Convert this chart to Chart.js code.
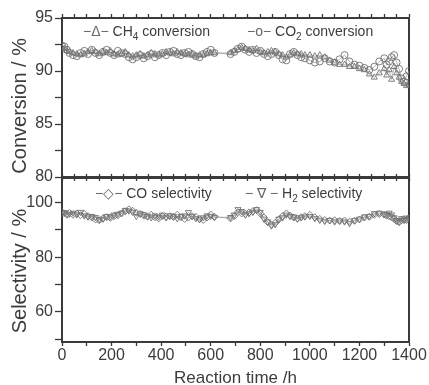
<!DOCTYPE html>
<html>
<head>
<meta charset="utf-8">
<script src="https://cdn.jsdelivr.net/npm/chart.js@4.4.0/dist/chart.umd.min.js"></script>
<style>
  html, body { margin: 0; padding: 0; background: #fff; overflow: hidden; }
  #wrap { position: relative; width: 429px; height: 385px; }
  canvas { position: absolute; left: 0; }
  #topChart { top: 0; }
  #bottomChart { top: 173px; }
  .key { position: absolute; font: 14px "Liberation Sans", Arial, sans-serif; color: #3c3c3c; white-space: nowrap; line-height: 16px; }
  .key sub { font-size: 10px; line-height: 0; }
  .mark { color: #666; }
</style>
</head>
<body>
<div id="wrap">
  <canvas id="topChart" width="429" height="190"></canvas>
  <canvas id="bottomChart" width="429" height="214"></canvas>
  <div class="key" style="left:83px;top:23px"><span class="mark">−Δ−</span> CH<sub>4</sub> conversion</div>
  <div class="key" style="left:247px;top:23px"><span class="mark">−o−</span> CO<sub>2</sub> conversion</div>
  <div class="key" style="left:95px;top:185px"><span class="mark">−◇−</span> CO selectivity</div>
  <div class="key" style="left:245px;top:185px"><span class="mark">− ∇ −</span> H<sub>2</sub> selectivity</div>
</div>
<script>
// reaction time (h) shared by all four series
const hours = [0, 10, 20, 30,
  45, 60, 75, 90, 105, 120, 135, 150, 165, 180, 195, 210, 225, 240, 255, 270, 285, 300, 315, 330, 345,
  360, 375, 390, 405, 420, 435, 450, 465, 480, 495, 510, 525, 540, 555, 570, 585, 600, 615,
  680, 695, 710, 725, 740, 755, 770, 785, 800, 815, 830, 845, 860, 875, 890, 905, 920, 935, 950, 965, 980,
  1000, 1020, 1040, 1060, 1080, 1100, 1120, 1140, 1160, 1180, 1200, 1220, 1240, 1260, 1280, 1300,
  1310, 1320, 1330, 1340, 1350, 1360, 1370, 1380, 1390, 1400];

const ch4Conversion = [92.2, 92.1, 91.9, 91.8,
  91.7, 91.6, 91.5, 91.6, 91.8, 91.9, 91.8, 91.6, 91.8, 91.7, 91.9, 91.6, 91.5, 91.6, 91.8, 91.5, 91.4, 91.5, 91.6, 91.4, 91.5,
  91.7, 91.6, 91.5, 91.6, 91.8, 91.7, 91.6, 91.8, 91.7, 91.6, 91.5, 91.6, 91.4, 91.5, 91.5, 91.6, 91.7, 91.7,
  91.7, 91.9, 92.0, 92.2, 92.1, 92.0, 91.9, 92.1, 91.8, 91.7, 91.8, 91.9, 91.8, 91.6, 91.5, 91.3, 91.5, 91.7, 91.6, 91.6, 91.5,
  91.5, 91.4, 91.5, 91.3, 91.0, 90.8, 90.6, 90.6, 90.4, 90.4, 90.2, 90.1, 89.7, 89.4, 89.8, 90.2,
  89.6, 90.1, 89.2, 90.4, 89.8, 89.4, 89.0, 88.8, 88.6, 88.7];

const co2Conversion = [92.4, 92.3, 92.0, 91.7,
  91.5, 91.4, 91.7, 91.9, 91.6, 92.0, 91.7, 91.5, 91.8, 92.0, 91.7, 91.5, 91.9, 91.7, 91.6, 91.3, 91.1, 91.3, 91.5, 91.2, 91.4,
  91.6, 91.3, 91.5, 91.7, 91.5, 91.8, 91.9, 91.6, 91.5, 91.7, 91.8, 91.6, 91.4, 91.3, 91.6, 91.8, 92.0, 91.7,
  91.6, 91.8, 92.1, 92.3, 92.0, 91.8, 92.0, 91.7, 91.9, 91.6, 91.4, 91.6, 91.8, 91.5, 91.1, 91.0, 91.6, 91.8, 91.5, 91.3, 91.2,
  91.0, 90.8, 90.9, 91.2, 90.9, 90.8, 91.1, 91.5, 90.9, 90.6, 90.5, 90.3, 90.1, 90.4, 90.9, 91.2,
  90.6, 90.9, 91.3, 91.5, 90.8, 90.2, 89.3, 89.0, 89.5, 90.0];

const coSelectivity = [96.5, 96.0, 95.8, 96.2,
  95.5, 96.0, 95.4, 95.8, 95.0, 94.5, 93.8, 93.5, 94.2, 94.6, 94.4, 95.0, 95.3, 96.0, 96.8, 97.5, 97.0, 96.3, 95.8, 95.2, 94.8,
  95.5, 94.6, 94.2, 95.0, 94.8, 95.0, 94.7, 95.5, 94.6, 94.0, 94.5, 95.0, 94.8, 94.0, 93.6, 94.5, 95.6, 94.8,
  94.2, 95.0, 96.5, 96.0, 95.8, 96.4, 96.8, 97.2, 96.0, 94.5, 92.8, 92.0, 92.5, 93.8, 95.0, 96.0, 95.2, 94.5, 94.2, 94.6, 95.0,
  95.5, 94.6, 94.0, 93.6, 93.4, 93.5, 93.2, 93.4, 93.0, 93.3, 93.8, 94.5, 94.8, 95.5, 95.8, 95.6,
  95.2, 95.0, 94.6, 94.0, 93.2, 92.8, 93.5, 94.0, 93.6, 94.2];

const h2Selectivity = [96.0, 96.4, 95.5, 95.8,
  96.2, 95.6, 96.5, 95.2, 94.8, 95.0, 94.6, 93.8, 94.0, 95.0, 94.8, 95.5, 95.8, 96.2, 97.2, 97.0, 96.5, 95.0, 96.0, 95.6, 95.0,
  94.5, 95.2, 94.8, 95.5, 94.5, 95.2, 95.0, 94.2, 95.0, 95.2, 96.4, 95.0, 94.2, 93.8, 94.5, 95.2, 95.0, 94.6,
  94.6, 95.5, 97.5, 96.8, 95.5, 96.0, 96.5, 97.5, 96.5, 94.0, 93.0, 91.5, 92.0, 94.0, 94.5, 95.5, 95.0, 94.8, 94.0, 94.5, 94.8,
  95.0, 94.2, 93.6, 93.2, 93.5, 93.0, 93.4, 93.0, 92.4, 93.5, 94.0, 94.8, 95.0, 96.0, 96.2, 95.8,
  95.6, 96.2, 95.5, 94.5, 93.5, 93.0, 94.2, 93.5, 94.0, 94.5];

// axis ticks
const xTicks = [0, 100, 200, 300, 400, 500, 600, 700, 800, 900, 1000, 1100, 1200, 1300, 1400];
const xFrameTicks = [0, 50, 100, 150, 200, 250, 300, 350, 400, 450, 500, 550, 600, 650, 700, 750,
  800, 850, 900, 950, 1000, 1050, 1100, 1150, 1200, 1250, 1300, 1350, 1400];
const conversionTicks = [80, 82.5, 85, 87.5, 90, 92.5, 95];
const selectivityTicks = [50, 60, 70, 80, 90, 100];

const axisColor = '#3a3a3a';
const textColor = '#3c3c3c';
const fontFamily = '"Liberation Sans", Arial, sans-serif';

Chart.defaults.font.family = fontFamily;
Chart.defaults.color = textColor;

const toPoints = (xs, ys) => xs.map((x, i) => ({ x: x, y: ys[i] }));

function series(label, values, pointStyle, rotation) {
  return {
    label: label,
    data: toPoints(hours, values),
    showLine: true,
    borderColor: '#a0a0a0',
    borderWidth: 0.8,
    pointStyle: pointStyle,
    pointRotation: rotation || 0,
    pointRadius: 3.5,
    pointBorderWidth: 0.9,
    pointBorderColor: '#727272',
    pointBackgroundColor: 'rgba(255,255,255,0)',
    tension: 0
  };
}

function fixedTicks(values) {
  return scale => { scale.ticks = values.map(v => ({ value: v })); };
}

function fixSize(w, h) {
  return scale => {
    if (w !== null) scale.width = w;
    if (h !== null) scale.height = h;
    scale.paddingTop = 0;
    scale.paddingBottom = 0;
    scale.paddingLeft = 0;
    scale.paddingRight = 0;
  };
}

function frameX(position, height, tickList, showLabels) {
  return {
    type: 'linear',
    position: position,
    min: 0,
    max: 1400,
    afterBuildTicks: fixedTicks(tickList),
    afterFit: fixSize(null, height),
    ticks: {
      display: showLabels,
      autoSkip: false,
      maxRotation: 0,
      padding: 0,
      font: { size: 16 },
      callback: v => (v % 200 === 0 ? String(v) : '')
    },
    grid: { drawOnChartArea: false, tickLength: 4, tickWidth: 1.3, tickColor: axisColor },
    border: { color: axisColor, width: 2 }
  };
}

function rightFrame(min, max) {
  return {
    type: 'linear',
    position: 'right',
    min: min,
    max: max,
    afterFit: fixSize(0, null),
    ticks: { display: false },
    grid: { drawOnChartArea: false, drawTicks: false },
    border: { color: axisColor, width: 2 }
  };
}

// trailing spaces nudge the rotated title downwards, as in the original figure
function leftAxis(min, max, tickList, labelStep, title) {
  return {
    type: 'linear',
    position: 'left',
    min: min,
    max: max,
    afterBuildTicks: fixedTicks(tickList),
    afterFit: fixSize(62, null),
    ticks: {
      padding: 2,
      font: { size: 16 },
      callback: v => (v % labelStep === 0 ? String(v) : '')
    },
    grid: { drawOnChartArea: false, tickLength: 7, tickWidth: 1.3, tickColor: axisColor },
    border: { color: axisColor, width: 2 },
    title: {
      display: true,
      text: title,
      color: textColor,
      font: { size: 20 },
      padding: { top: 8, bottom: 0 }
    }
  };
}

const baseOptions = {
  responsive: false,
  animation: false,
  devicePixelRatio: 1,
  plugins: { legend: { display: false }, tooltip: { enabled: false } }
};

new Chart(document.getElementById('topChart'), {
  type: 'line',
  data: {
    datasets: [
      series('CH4 conversion', ch4Conversion, 'triangle', 0),
      series('CO2 conversion', co2Conversion, 'circle', 0)
    ]
  },
  options: Object.assign({}, baseOptions, {
    layout: { padding: { top: 14, right: 20, bottom: 0, left: 0 } },
    scales: {
      x: frameX('bottom', 13, xFrameTicks, false),
      xTop: frameX('top', 4, xFrameTicks, false),
      y: leftAxis(80, 95, conversionTicks, 5, 'Conversion / %   '),
      yRight: rightFrame(80, 95)
    }
  })
});

const bottomX = frameX('bottom', 45, xTicks, true);
bottomX.title = {
  display: true,
  text: 'Reaction time /h',
  color: textColor,
  font: { size: 17, lineHeight: 1 },
  padding: { top: 0, bottom: 0 }
};

new Chart(document.getElementById('bottomChart'), {
  type: 'line',
  data: {
    datasets: [
      series('CO selectivity', coSelectivity, 'rectRot', 0),
      series('H2 selectivity', h2Selectivity, 'triangle', 180)
    ]
  },
  options: Object.assign({}, baseOptions, {
    layout: { padding: { top: 0, right: 20, bottom: 0, left: 0 } },
    scales: {
      x: bottomX,
      xTop: frameX('top', 4, xFrameTicks, false),
      y: leftAxis(49, 109, selectivityTicks, 20, 'Selectivity / %    '),
      yRight: rightFrame(49, 109)
    }
  })
});
</script>
</body>
</html>
